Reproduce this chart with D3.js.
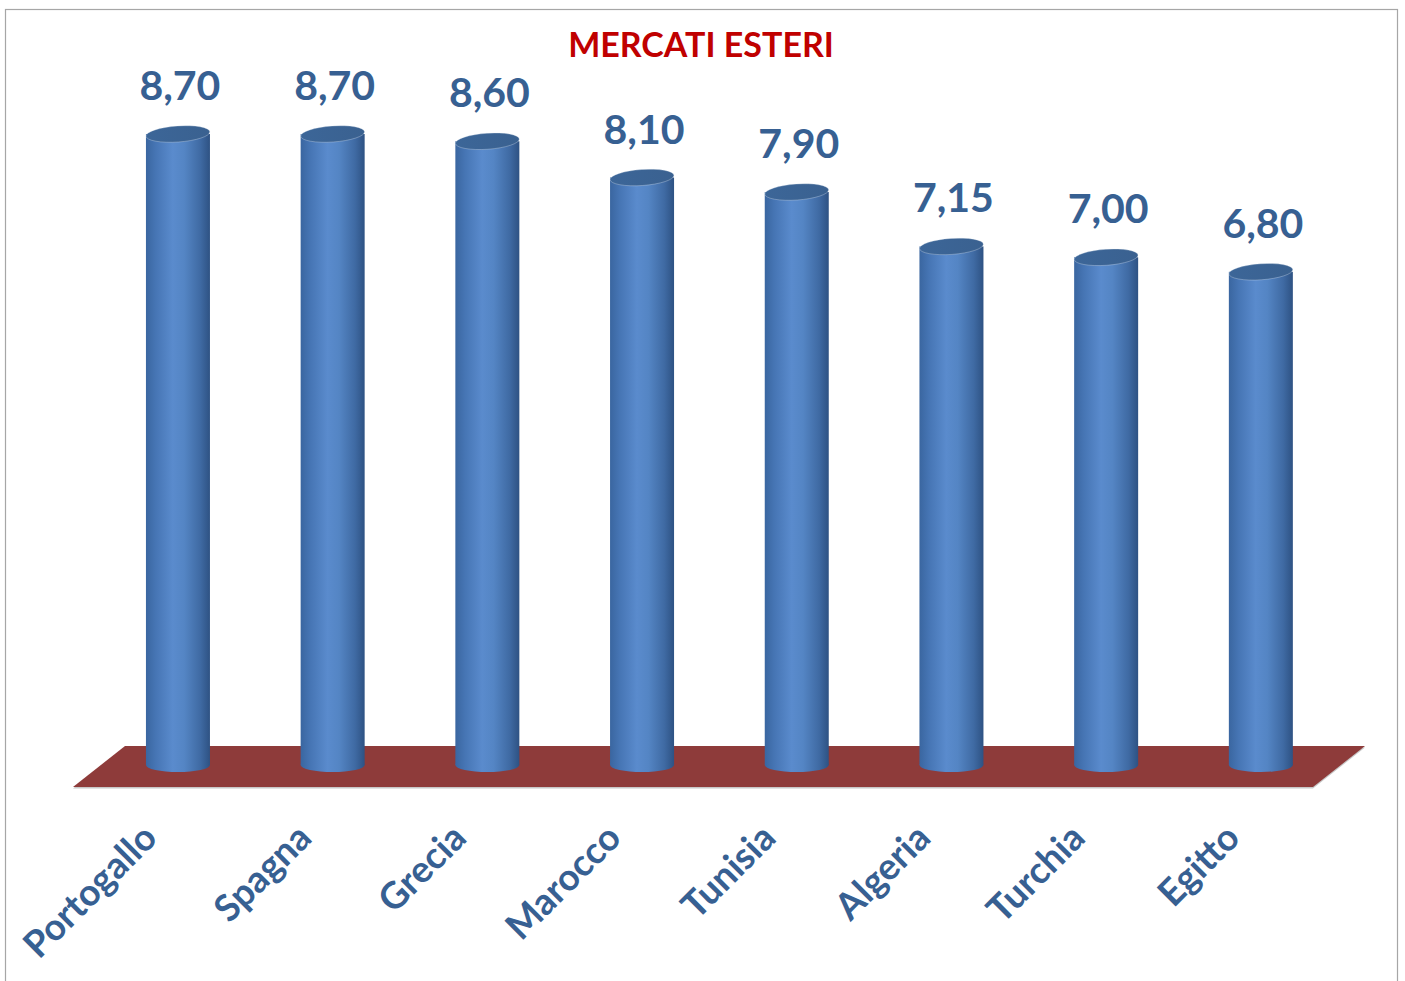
<!DOCTYPE html>
<html><head><meta charset="utf-8">
<script src="https://cdn.jsdelivr.net/npm/d3@7"></script>
<style>html,body{margin:0;padding:0;background:#fff}svg{display:block}</style>
</head><body>
<script>
const categories = ["Portogallo","Spagna","Grecia","Marocco","Tunisia","Algeria","Turchia","Egitto"];
const values = [8.70, 8.70, 8.60, 8.10, 7.90, 7.15, 7.00, 6.80];
const valueLabels = ["8,70","8,70","8,60","8,10","7,90","7,15","7,00","6,80"];
const title = "MERCATI ESTERI";

const W = 1405, H = 981;
const svg = d3.select("body").append("svg").attr("width", W).attr("height", H);
const defs = svg.append("defs");

const side = defs.append("linearGradient").attr("id","side").attr("x1","0").attr("x2","1").attr("y1","0").attr("y2","0");
[[0,"#3a66a0"],[0.15,"#4675b4"],[0.42,"#5a8bcd"],[0.6,"#5485c4"],[0.85,"#3f6aa3"],[1,"#2e5283"]]
  .forEach(([o,c])=>side.append("stop").attr("offset",o).attr("stop-color",c));
const topG = defs.append("linearGradient").attr("id","topg").attr("x1","0").attr("x2","1").attr("y1","0").attr("y2","0");
[[0,"#3c6698"],[1,"#3a6190"]].forEach(([o,c])=>topG.append("stop").attr("offset",o).attr("stop-color",c));

// frame
svg.append("rect").attr("x",5.5).attr("y",9.5).attr("width",1392).attr("height",1000)
  .attr("fill","#fff").attr("stroke","#a6a6a6").attr("stroke-width",1.2);

const x = d3.scaleBand().domain(categories).range([100.6, 1338.2]);
const y = d3.scaleLinear().domain([0, 8.7]).range([765, 134]);

// title
svg.append("text").attr("x", 701).attr("y", 57).attr("text-anchor","middle")
  .attr("font-family","Lato, 'Open Sans', sans-serif").attr("font-weight","bold")
  .attr("font-size", 34).attr("fill","#c00000").text(title);

// floor
const floorTop = 746, floorBot = 787;
svg.append("polygon")
  .attr("points", [[73,floorBot+1.5],[1313,floorBot+1.5],[1365,floorTop+1.5],[125,floorTop+1.5]].map(p=>p.join(",")).join(" "))
  .attr("fill","#c8c8c8");
svg.append("polygon")
  .attr("points", [[73,floorBot],[1313,floorBot],[1365,floorTop],[125,floorTop]].map(p=>p.join(",")).join(" "))
  .attr("fill","#8e3b3a");

const rx = 32, ryB = 7, ryT = 8;
const g = svg.append("g");
categories.forEach((c,i)=>{
  const cx = x(c) + x.bandwidth()/2;
  const yt = y(values[i]), yb = y(0);
  const cyl = g.append("g");
  cyl.append("ellipse").attr("cx",cx).attr("cy",yb).attr("rx",rx).attr("ry",ryB).attr("fill","url(#side)");
  cyl.append("rect").attr("x",cx-rx).attr("y",yt).attr("width",rx*2).attr("height",yb-yt).attr("fill","url(#side)");
  cyl.append("ellipse").attr("cx",cx).attr("cy",yt).attr("rx",rx).attr("ry",ryT)
    .attr("transform",`rotate(-4 ${cx} ${yt})`).attr("fill","url(#topg)")
    .attr("stroke","#e8eef6").attr("stroke-width",0.6).attr("stroke-opacity",0.5);
  svg.append("text").attr("x",cx+2).attr("y",yt-34).attr("text-anchor","middle")
    .attr("font-family","Lato, 'Open Sans', sans-serif").attr("font-weight","bold")
    .attr("font-size",41).attr("fill","#376092").text(valueLabels[i]);
  const ax = cx - 19, ay = 840;
  svg.append("text").attr("x",ax).attr("y",ay).attr("text-anchor","end")
    .attr("transform",`rotate(-45 ${ax} ${ay})`)
    .attr("font-family","Lato, 'Open Sans', sans-serif").attr("font-weight","bold")
    .attr("font-size",37).attr("fill","#376092").text(c);
});
</script>
</body></html>
